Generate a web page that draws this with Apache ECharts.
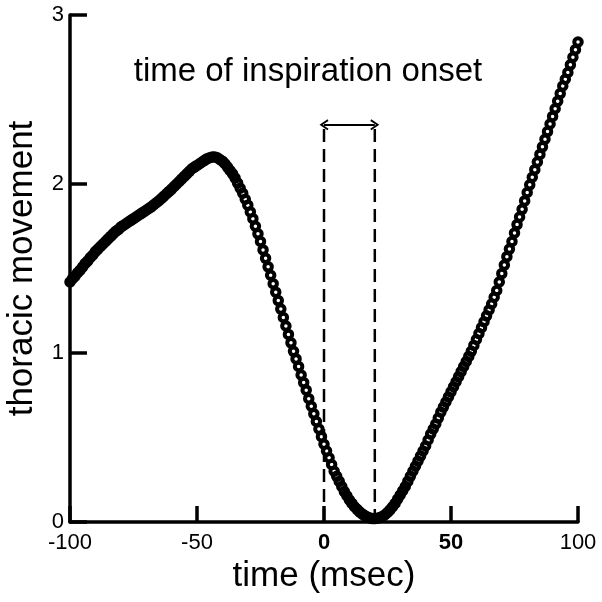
<!DOCTYPE html>
<html>
<head>
<meta charset="utf-8">
<script src="https://cdn.jsdelivr.net/npm/echarts@6/dist/echarts.min.js"></script>
<style>
html,body{margin:0;padding:0;background:#fff;}
#chart{width:602px;height:602px;}
</style>
</head>
<body>
<div id="chart"></div>
<script>
// time axis, msec (one sample per msec)
var timeStart = -100;
// thoracic movement values, one per msec from -100 to 100
var thoracicMovement = [
  1.42, 1.44, 1.455, 1.475, 1.49, 1.51, 1.53, 1.545, 1.565, 1.58,          // -100..-91
  1.60, 1.615, 1.63, 1.645, 1.66, 1.675, 1.69, 1.705, 1.72, 1.73,          // -90..-81
  1.745, 1.755, 1.765, 1.775, 1.785, 1.795, 1.805, 1.815, 1.825, 1.835,    // -80..-71
  1.845, 1.855, 1.865, 1.877, 1.889, 1.901, 1.914, 1.928, 1.942, 1.956,    // -70..-61
  1.97, 1.985, 2.00, 2.015, 2.03, 2.045, 2.06, 2.075, 2.09, 2.10,          // -60..-51
  2.11, 2.12, 2.13, 2.14, 2.15, 2.155, 2.16, 2.16, 2.155, 2.145,           // -50..-41
  2.135, 2.12, 2.10, 2.08, 2.06, 2.035, 2.005, 1.975, 1.945, 1.91,         // -40..-31
  1.875, 1.835, 1.795, 1.75, 1.705, 1.66, 1.61, 1.56, 1.51, 1.46,          // -30..-21
  1.41, 1.36, 1.31, 1.26, 1.21, 1.16, 1.11, 1.06, 1.01, 0.965,             // -20..-11
  0.92, 0.87, 0.825, 0.78, 0.73, 0.685, 0.64, 0.595, 0.55, 0.505,          // -10..-1
  0.46, 0.42, 0.38, 0.34, 0.30, 0.27, 0.24, 0.21, 0.18, 0.155,             // 0..9
  0.13, 0.11, 0.09, 0.075, 0.06, 0.048, 0.038, 0.03, 0.024, 0.02,          // 10..19
  0.02, 0.022, 0.026, 0.033, 0.043, 0.056, 0.072, 0.09, 0.11, 0.135,       // 20..29
  0.16, 0.185, 0.21, 0.24, 0.27, 0.30, 0.33, 0.36, 0.39, 0.42,             // 30..39
  0.45, 0.485, 0.52, 0.55, 0.58, 0.615, 0.65, 0.68, 0.71, 0.74,            // 40..49
  0.77, 0.80, 0.83, 0.86, 0.89, 0.92, 0.95, 0.98, 1.01, 1.045,             // 50..59
  1.08, 1.115, 1.15, 1.185, 1.22, 1.255, 1.29, 1.33, 1.37, 1.42,           // 60..69
  1.47, 1.52, 1.57, 1.615, 1.66, 1.71, 1.76, 1.805, 1.85, 1.90,            // 70..79
  1.95, 1.995, 2.04, 2.085, 2.13, 2.175, 2.22, 2.265, 2.31, 2.355,         // 80..89
  2.40, 2.445, 2.49, 2.535, 2.58, 2.62, 2.66, 2.705, 2.75, 2.795,          // 90..99
  2.84                                                                       // 100
];
// onset window markers (msec) and their heights
var onsetMarkers = [0, 20];
var markerTop = 2.33;
var arrowLevel = 2.35;
// axis ticks
var xTicks = [-100, -50, 0, 50, 100];
var yTicks = [0, 1, 2, 3];
var boldXTicks = [0, 50];
var annotationText = 'time of inspiration onset';
var xName = 'time (msec)';
var yName = 'thoracic movement';

var FONT = '"Liberation Sans", Arial, Helvetica, sans-serif';

var points = thoracicMovement.map(function (v, i) { return [timeStart + i, v]; });

var chart = echarts.init(document.getElementById('chart'), null, {renderer: 'canvas'});

var chevron = 'path://M50,0 L100,75 L86,84 L50,30 L14,84 L0,75 Z';

var series = [{
  type: 'scatter',
  data: points,
  symbol: 'circle',
  symbolSize: 7.5,
  itemStyle: {color: 'rgba(0,0,0,0)', borderColor: '#000', borderWidth: 4, opacity: 1},
  emphasis: {disabled: true},
  silent: true,
  z: 3
}];

onsetMarkers.forEach(function (m) {
  series.push({
    type: 'line',
    data: [[m, 0], [m, markerTop]],
    symbol: 'none',
    lineStyle: {color: '#000', width: 2.5, type: [13, 7]},
    silent: true,
    z: 2
  });
});

series.push({
  type: 'line',
  data: [],
  silent: true,
  markLine: {
    silent: true,
    animation: false,
    label: {show: false},
    lineStyle: {color: '#000', width: 2, type: 'solid'},
    symbolSize: [11, 9],
    data: [[
      {coord: [onsetMarkers[0], arrowLevel], symbol: chevron},
      {coord: [onsetMarkers[1], arrowLevel], symbol: chevron}
    ]]
  }
});

var labelRich = {
  n: {fontSize: 22, fontFamily: FONT, color: '#000'},
  b: {fontSize: 22, fontFamily: FONT, color: '#000', fontWeight: 'bold'}
};

var option = {
  animation: false,
  backgroundColor: '#fff',
  grid: {left: 70, right: 24, top: 15, bottom: 80, containLabel: false, outerBoundsMode: 'none'},
  xAxis: {
    type: 'value',
    min: xTicks[0],
    max: xTicks[xTicks.length - 1],
    interval: 50,
    name: xName,
    nameLocation: 'middle',
    nameGap: 36,
    nameTextStyle: {fontSize: 35, fontFamily: FONT, color: '#000'},
    axisLine: {show: true, onZero: false, lineStyle: {color: '#000', width: 3.5}},
    axisTick: {show: true, inside: true, length: 16, lineStyle: {color: '#000', width: 3.5}},
    axisLabel: {
      margin: 10,
      formatter: function (v) {
        return (boldXTicks.indexOf(v) >= 0 ? '{b|' : '{n|') + v + '}';
      },
      rich: labelRich
    },
    splitLine: {show: false}
  },
  yAxis: {
    type: 'value',
    min: yTicks[0],
    max: yTicks[yTicks.length - 1],
    interval: 1,
    name: yName,
    nameLocation: 'middle',
    nameRotate: 90,
    nameGap: 30,
    nameTextStyle: {fontSize: 35, fontFamily: FONT, color: '#000'},
    axisLine: {show: true, onZero: false, lineStyle: {color: '#000', width: 3.5}},
    axisTick: {show: true, inside: true, length: 17, lineStyle: {color: '#000', width: 3.5}},
    axisLabel: {margin: 6, fontSize: 22, fontFamily: FONT, color: '#000'},
    splitLine: {show: false}
  },
  graphic: [{
    type: 'text',
    x: 308,
    y: 72,
    silent: true,
    style: {
      text: annotationText,
      font: '33px ' + FONT,
      fill: '#000',
      textAlign: 'center',
      textVerticalAlign: 'middle'
    }
  }],
  series: series
};

chart.setOption(option);
</script>
</body>
</html>
